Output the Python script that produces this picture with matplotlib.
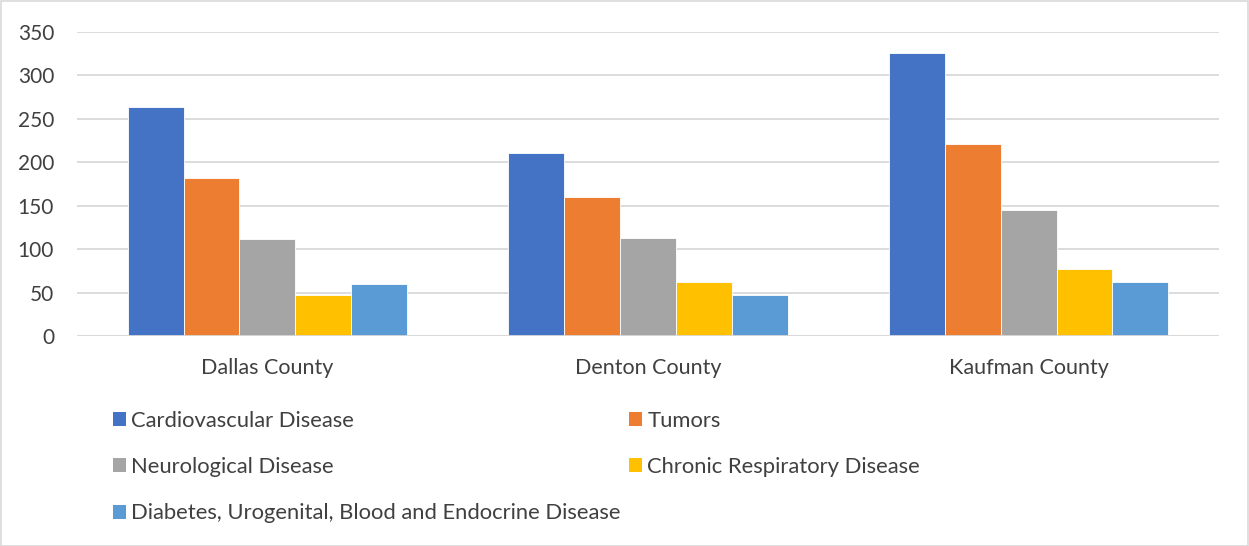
import matplotlib
matplotlib.use("Agg")
import matplotlib.pyplot as plt
import numpy as np
from matplotlib.patches import Rectangle, Patch

plt.rcParams['font.family'] = ['Lato', 'DejaVu Sans']

categories = ["Dallas County", "Denton County", "Kaufman County"]
series_names = ["Cardiovascular Disease", "Tumors", "Neurological Disease",
                "Chronic Respiratory Disease",
                "Diabetes, Urogenital, Blood and Endocrine Disease"]
cardiovascular = [264, 211, 325]
tumors = [182, 160, 221]
neurological = [112, 113, 145]
chronic_resp = [48, 62, 77]
diabetes = [60, 48, 62]
colors = ["#4472C4", "#ED7D31", "#A5A5A5", "#FFC000", "#5B9BD5"]
yticks = [0, 50, 100, 150, 200, 250, 300, 350]

series = [cardiovascular, tumors, neurological, chronic_resp, diabetes]

W, H = 1249, 546
fig = plt.figure(figsize=(W / 100, H / 100), dpi=100)
ax = fig.add_axes([77 / W, 1 - 336.3 / H, (1219 - 77) / W, (336.3 - 31.7) / H])

x = np.arange(len(categories))
group_w = 0.733
bw = group_w / len(series)
for i, (vals, c) in enumerate(zip(series, colors)):
    ax.bar(x - group_w / 2 + bw * (i + 0.5), vals, width=bw, color=c,
           edgecolor='white', linewidth=0.6, zorder=3, label=series_names[i])

ax.set_xlim(-0.5, 2.5)
ax.set_ylim(0, 350)
ax.set_yticks(yticks)
ax.set_xticks(x)
ax.set_xticklabels(categories)
ax.grid(axis='y', color='#D9D9D9', linewidth=1.3, zorder=0)
for s in ax.spines.values():
    s.set_visible(False)
ax.axhline(0, color='#D9D9D9', linewidth=1.3, zorder=4)
ax.tick_params(axis='both', length=0, colors='#404040')
ax.tick_params(axis='y', pad=16.5, labelsize=15)
ax.tick_params(axis='x', pad=15.5, labelsize=15.5)

handles = [Patch(facecolor=colors[k]) for k in [0, 2, 4, 1, 3]]
labels = [series_names[k] for k in [0, 2, 4, 1, 3]]
leg = fig.legend(handles, labels, ncol=2, loc='upper left',
                 bbox_to_anchor=(104 / W, 1 - 402 / H), frameon=False,
                 fontsize=15.8, labelcolor='#404040', handlelength=0.6,
                 handleheight=0.6, handletextpad=0.25, columnspacing=0.35,
                 labelspacing=1.2, borderaxespad=0)

fig.patches.append(Rectangle((0.5 / W, 0.5 / H), 1 - 1.5 / W, 1 - 1.5 / H,
                             transform=fig.transFigure, fill=False,
                             edgecolor='#D9D9D9', linewidth=1.2))

fig.savefig("out.png", dpi=100, facecolor='white')
